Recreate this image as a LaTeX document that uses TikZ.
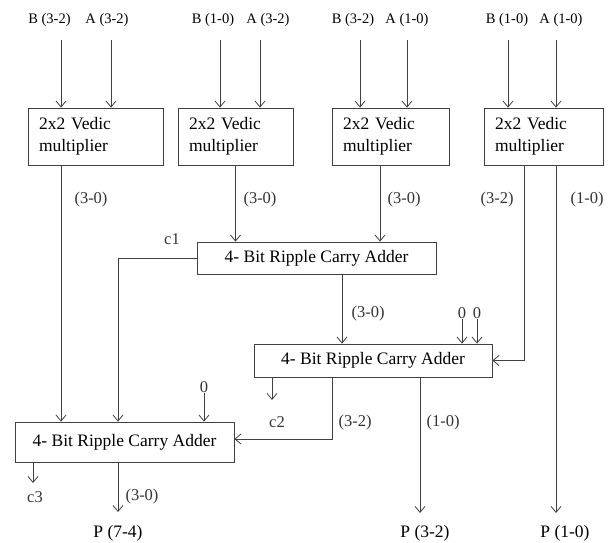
\documentclass[tikz,border=0pt]{standalone}
\usepackage{fontspec}
\setmainfont{Liberation Serif}
\usetikzlibrary{arrows.meta}
\begin{document}
\begin{tikzpicture}[x=1pt,y=-1pt,
  lc/.style={draw=black!75, line width=0.8pt},
  box/.style={lc, rectangle, inner sep=0pt},
  ved/.style={box, minimum height=57pt, minimum width=#1, text width=#1-22pt, align=left, font=\fontsize{17.5}{22}\selectfont},
  adder/.style={box, font=\fontsize{17.5}{21}\selectfont},
  arr/.style={lc, -{Straight Barb[length=6pt,width=10pt]}},
  toplbl/.style={inner sep=0pt, font=\fontsize{14.5}{17}\selectfont},
  lbl/.style={inner sep=0pt, text=black!80, font=\fontsize{16.5}{19}\selectfont},
  plbl/.style={inner sep=0pt, font=\fontsize{17.5}{20}\selectfont}]
\useasboundingbox[fill=white] (0,0) rectangle (613,543);
% multipliers
\node[ved=135pt] (v1) at (95.5,136.5) {2x2 Vedic\\multiplier};
\node[ved=115pt] (v2) at (235.5,136.5) {2x2 Vedic\\multiplier};
\node[ved=117pt] (v3) at (390.5,136.5) {2x2 Vedic\\multiplier};
\node[ved=119pt] (v4) at (543.5,136.5) {2x2 Vedic\\multiplier};
% adders
\node[adder, minimum width=239pt, minimum height=32pt] (a1) at (316.5,258) {4- Bit Ripple Carry Adder};
\node[adder, minimum width=238pt, minimum height=33pt] (a2) at (373,360.5) {4- Bit Ripple Carry Adder};
\node[adder, minimum width=219pt, minimum height=40pt] (a3) at (124.5,442) {4- Bit Ripple Carry Adder};
% top labels
\node[toplbl] (tb1) at (49.5,20) {B (3-2)};
\node[toplbl] (ta1) at (107,20) {A (3-2)};
\node[toplbl] (tb2) at (213,20) {B (1-0)};
\node[toplbl] (ta2) at (268,20) {A (3-2)};
\node[toplbl] (tb3) at (353,20) {B (3-2)};
\node[toplbl] (ta3) at (407,20) {A (1-0)};
\node[toplbl] (tb4) at (507,20) {B (1-0)};
\node[toplbl] (ta4) at (561,20) {A (1-0)};
% input arrows
\coordinate (i1) at (61,40);
\coordinate (i2) at (111,40);
\coordinate (i3) at (220,40);
\coordinate (i4) at (260,40);
\coordinate (i5) at (360,40);
\coordinate (i6) at (407,40);
\coordinate (i7) at (508,40);
\coordinate (i8) at (556,40);
\draw[arr] (i1) -- (i1 |- v1.north);
\draw[arr] (i2) -- (i2 |- v1.north);
\draw[arr] (i3) -- (i3 |- v2.north);
\draw[arr] (i4) -- (i4 |- v2.north);
\draw[arr] (i5) -- (i5 |- v3.north);
\draw[arr] (i6) -- (i6 |- v3.north);
\draw[arr] (i7) -- (i7 |- v4.north);
\draw[arr] (i8) -- (i8 |- v4.north);
% multiplier outputs
\coordinate (x3) at (380,0);
\coordinate (x4) at (524,0);
\coordinate (e10) at (556,513);
\draw[arr] (v1.south -| i1) -- (a3.north -| i1);
\draw[arr] (v2.south) -- (v2.south |- a1.north);
\draw[arr] (v3.south -| x3) -- (a1.north -| x3);
\draw[arr] (v4.south -| x4) |- (a2.east);
\draw[arr] (v4.south -| e10) -- (e10);
\node[lbl] (l1) at (91,200) {(3-0)};
\node[lbl] (l2) at (260,200) {(3-0)};
\node[lbl] (l3) at (404,200) {(3-0)};
\node[lbl] (l4) at (497,200) {(3-2)};
\node[lbl] (l5) at (587,200) {(1-0)};
% adder 1
\coordinate (c1x) at (118,0);
\coordinate (x5) at (342,0);
\draw[arr] (a1.west) -| (a3.north -| c1x);
\draw[arr] (a1.south -| x5) -- (a2.north -| x5);
\node[lbl] (lc1) at (172,239) {c1};
\node[lbl] (l6) at (368,314) {(3-0)};
% zeros into adder 2
\node[lbl] (z1) at (462,313) {0};
\node[lbl] (z2) at (477,313) {0};
\draw[arr] (z1.south) -- (z1.south |- a2.north);
\draw[arr] (z2.south) -- (z2.south |- a2.north);
% adder 2 outputs
\coordinate (x6) at (272,400);
\coordinate (x7) at (332,439);
\coordinate (x8) at (420,513);
\draw[arr] (a2.south -| x6) -- (x6);
\draw[arr] (a2.south -| x7) -- (x7) -- (a3.east |- x7);
\draw[arr] (a2.south -| x8) -- (x8);
\node[lbl] (lc2) at (277,422) {c2};
\node[lbl] (l7) at (355,423) {(3-2)};
\node[lbl] (l8) at (443,423) {(1-0)};
% adder 3
\node[lbl] (z3) at (204,387) {0};
\draw[arr] (z3.south) -- (z3.south |- a3.north);
\coordinate (x9) at (33,483);
\coordinate (x10) at (118,512);
\draw[arr] (a3.south -| x9) -- (x9);
\draw[arr] (a3.south -| x10) -- (x10);
\node[lbl] (lc3) at (35,497) {c3};
\node[lbl] (l9) at (142,497) {(3-0)};
% products
\node[plbl] (p1) at (118,533) {P (7-4)};
\node[plbl] (p2) at (425,533) {P (3-2)};
\node[plbl] (p3) at (565,533) {P (1-0)};
\end{tikzpicture}
\end{document}
